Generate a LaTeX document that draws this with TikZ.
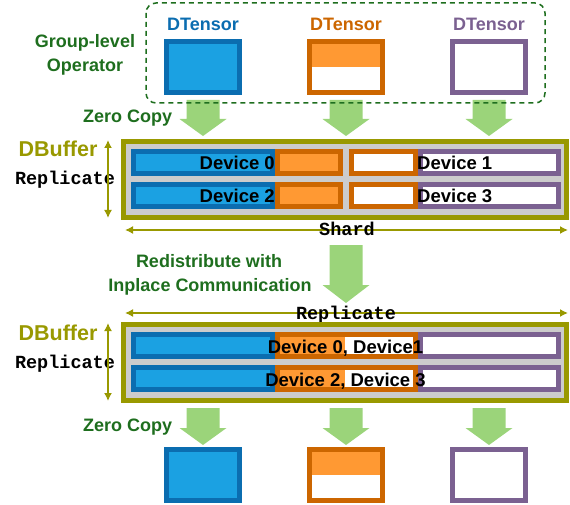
\documentclass[tikz,border=0pt]{standalone}
\usepackage{fontspec}
\setmainfont{Liberation Sans}
\setmonofont{Liberation Mono}
\usetikzlibrary{arrows.meta}
\definecolor{gtext}{RGB}{30,110,30}
\definecolor{olivec}{RGB}{153,153,0}
\definecolor{bfill}{RGB}{27,161,226}
\definecolor{bbord}{RGB}{11,109,176}
\definecolor{ofill}{RGB}{255,153,51}
\definecolor{obord}{RGB}{204,102,0}
\definecolor{pbord}{RGB}{123,97,145}
\definecolor{garr}{RGB}{155,212,122}
\definecolor{bgrey}{RGB}{204,204,204}
\newcommand{\greenarrow}[4]{%
  \fill[garr] ({#1-16.5},#2) -- ({#1+16.5},#2) -- ({#1+16.5},#3) -- ({#1+23.5},#3)
    -- (#1,#4) -- ({#1-23.5},#3) -- ({#1-16.5},#3) -- cycle;}
\tikzset{
  gl/.style={font=\fontsize{18}{18}\selectfont\bfseries, inner sep=0, text=gtext, anchor=base},
  dt/.style={font=\fontsize{18}{18}\selectfont\bfseries, inner sep=0, text=#1, anchor=base},
  dev/.style={font=\fontsize{18.5}{18.5}\selectfont\bfseries, inner sep=0, text=black},
  mono/.style={font=\fontsize{18.5}{18.5}\selectfont\ttfamily\bfseries, inner sep=0, anchor=base},
  dbuf/.style={font=\fontsize{21.5}{21.5}\selectfont\bfseries, inner sep=0, text=olivec, anchor=base},
  tbox/.style={line width=5pt, minimum width=73pt, minimum height=51pt, inner sep=0},
  tblue/.style={tbox, draw=bbord, fill=bfill},
  torange/.style={tbox, draw=obord, fill=white,
    path picture={\fill[ofill] (path picture bounding box.north west) rectangle (path picture bounding box.east);}},
  tpurple/.style={tbox, draw=pbord, fill=white},
  seg/.style={line width=5pt, inner sep=0, minimum height=22pt},
  bufbox/.style={draw=olivec, line width=5pt, fill=bgrey},
  olarrow/.style={draw=olivec, line width=1.5pt, {Latex[length=8pt,width=8pt]}-{Latex[length=8pt,width=8pt]}},
}
\begin{document}
\begin{tikzpicture}[x=1pt,y=-1pt]
\useasboundingbox (0,0) rectangle (570,505);

% ---------- top: group-level operator ----------
\greenarrow{203}{100}{119}{136}
\greenarrow{346}{100}{119}{136}
\greenarrow{489}{100}{119}{136}
\draw[gtext, line width=1.5pt, dash pattern=on 5pt off 4pt, rounded corners=10pt] (146,3) rectangle (545,103);

\node[gl] (gop1) at (85,48) {Group-level};
\node[gl] (gop2) at (85,72) {Operator};
\node[dt=bbord] (dt1) at (203,31) {DTensor};
\node[dt=obord] (dt2) at (346,31) {DTensor};
\node[dt=pbord] (dt3) at (489,31) {DTensor};
\node[tblue] (tb1) at (203,67) {};
\node[torange] (to1) at (346,67) {};
\node[tpurple] (tp1) at (489,67) {};
\node[gl, anchor=base west] (zc1) at (83,123) {Zero Copy};

% ---------- first DBuffer ----------
\draw[bufbox] (123.5,141.5) rectangle (566.5,217.5);
\foreach \yy/\nn in {162.5/a,195.5/b}{
  \node[seg, draw=bbord, fill=bfill, minimum width=139pt] (sb\nn) at (203,\yy) {};
  \node[seg, draw=obord, fill=ofill, minimum width=63pt] (so\nn) at (309,\yy) {};
  \node[seg, draw=obord, fill=white, minimum width=64pt] (sw\nn) at (383.5,\yy) {};
  \node[seg, draw=pbord, fill=white, minimum width=138pt] (sp\nn) at (489.5,\yy) {};
}
\node[dev, anchor=base east] (d0) at (275,170) {Device 0};
\node[dev, anchor=base west] (d1) at (417,170) {Device 1};
\node[dev, anchor=base east] (d2) at (275,203) {Device 2};
\node[dev, anchor=base west] (d3) at (417,203) {Device 3};
\node[dbuf] (db1) at (58,157) {DBuffer};
\node[mono] (rep1) at (65,185) {Replicate};
\coordinate (v1t) at (108,140);
\coordinate (v1b) at (108,218);
\draw[olarrow] (v1t) -- (v1b);
\coordinate (h1l) at (125,230);
\coordinate (h1r) at (568,230);
\draw[olarrow] (h1l) -- (h1r);
\node[mono] (shard) at (347,236) {Shard};

% ---------- redistribute ----------
\greenarrow{346}{245}{285}{303}
\node[gl] (rd1) at (209,267) {Redistribute with};
\node[gl] (rd2) at (210,291) {Inplace Communication};
\coordinate (h2l) at (125,313);
\coordinate (h2r) at (568,313);
\draw[olarrow] (h2l) -- (h2r);
\node[mono] (rep3) at (346,319) {Replicate};

% ---------- second DBuffer ----------
\draw[bufbox] (123.5,324.5) rectangle (566.5,400.5);
\foreach \yy/\nn in {345.5/c,378.5/d}{
  \node[seg, draw=bbord, fill=bfill, minimum width=139pt] (sb\nn) at (203,\yy) {};
  \node[seg, draw=obord, fill=white, minimum width=138pt,
    path picture={\fill[ofill] (path picture bounding box.south west) rectangle ([xshift=-1.5pt]path picture bounding box.north);}] (so\nn) at (346.5,\yy) {};
  \node[seg, draw=pbord, fill=white, minimum width=138pt] (sp\nn) at (489.5,\yy) {};
}
\node[dev, anchor=base] (d01) at (345.5,353) {Device 0, Device1};
\node[dev, anchor=base] (d23) at (345.5,386) {Device 2, Device 3};
\node[dbuf] (db2) at (58,340) {DBuffer};
\node[mono] (rep2) at (65,368) {Replicate};
\coordinate (v2t) at (108,323);
\coordinate (v2b) at (108,401);
\draw[olarrow] (v2t) -- (v2b);

% ---------- bottom ----------
\greenarrow{203}{408}{428}{445}
\greenarrow{346}{408}{428}{445}
\greenarrow{489}{408}{428}{445}
\node[gl, anchor=base west] (zc2) at (83,431) {Zero Copy};
\node[tblue] (tb2) at (203,475) {};
\node[torange] (to2) at (346,475) {};
\node[tpurple] (tp2) at (489,475) {};
\end{tikzpicture}
\end{document}
